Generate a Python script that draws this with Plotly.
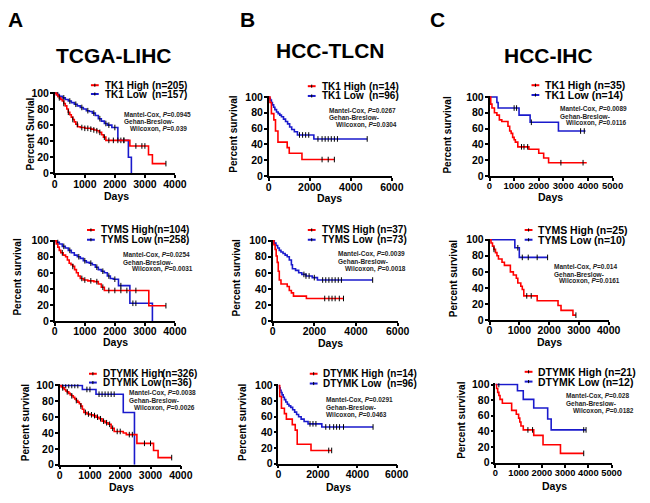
import numpy as np
import plotly.graph_objects as go

W, H = 650, 503
FONT = "Liberation Sans, Arial, sans-serif"
RED = "#FF0000"
BLUE = "#1A1ACC"

# ---------------- data ----------------
COHORTS = ["TCGA-LIHC", "HCC-TLCN", "HCC-IHC"]
PANEL_LETTERS = ["A", "B", "C"]
GENES = ["TK1", "TYMS", "DTYMK"]
Y_LABELS = ["Percent Survial", "Percent survival", "Percent survival",
            "Percent survival", "Percent survival", "Percent survival",
            "Percent survival", "Percent survival", "Percent survival"]
# order: A1 B1 C1 A2 B2 C2 A3 B3 C3
N_HIGH = [205, 14, 35, 104, 37, 25, 326, 14, 21]
N_LOW = [157, 96, 14, 258, 73, 10, 36, 96, 12]
MANTEL_P = ["0.0945", "0.0267", "0.0089", "0.0254", "0.0039", "0.014", "0.0038", "0.0291", "0.028"]
WILCOX_P = ["0.039", "0.0304", "0.0116", "0.0031", "0.0018", "0.0161", "0.0026", "0.0463", "0.0182"]
X_MAX = [4000, 6000, 5000, 4000, 6000, 4000, 4000, 6000, 5000]
X_DTICK = [1000, 2000, 1000, 1000, 2000, 1000, 1000, 2000, 1000]
Y_TICKS = [0, 20, 40, 60, 80, 100]

A1_HIGH_T = [0, 50, 100, 150, 200, 250, 300, 350, 400, 450, 500, 550, 600, 650, 700, 760, 850, 1000, 1100, 1200, 1300, 1400, 1480, 1560, 1620, 1700, 2500, 3120, 3250, 3700]
A1_HIGH_S = [100, 98, 96, 94, 92, 90, 87, 84, 80, 76, 73, 70, 67, 64, 61, 58, 57, 56, 56, 55, 54, 53, 51, 48, 45, 41, 34, 23, 12, 12]
A1_LOW_T = [0, 60, 150, 250, 350, 450, 550, 650, 750, 850, 950, 1050, 1150, 1250, 1350, 1450, 1550, 1650, 1750, 1900, 2100, 2450, 2550]
A1_LOW_S = [100, 98, 96, 94, 92, 90, 88, 86, 84, 82, 80, 78, 77, 75, 72, 68, 65, 62, 60, 57, 41, 20, 0]
A1_HIGH_C = [150, 300, 450, 600, 750, 900, 1000, 1100, 1200, 1300, 1400, 1500, 1650, 1800, 1950, 2100, 2300, 2700, 2900, 3000, 3700]
A1_LOW_C = [100, 300, 500, 700, 900, 1100, 1300, 1500, 1700, 1800, 2000, 2200, 2300]

A2_HIGH_T = [0, 50, 100, 150, 200, 280, 360, 420, 480, 540, 600, 660, 720, 780, 850, 950, 1100, 1300, 1450, 1550, 1650, 3130, 3700]
A2_HIGH_S = [100, 96, 92, 88, 85, 82, 80, 76, 72, 70, 68, 64, 60, 56, 53, 51, 50, 49, 46, 42, 38, 19, 19]
A2_LOW_T = [0, 60, 150, 250, 350, 450, 550, 650, 750, 850, 950, 1050, 1150, 1250, 1350, 1450, 1550, 1650, 1750, 1850, 1950, 2120, 2500, 3250]
A2_LOW_S = [100, 98, 96, 93, 91, 88, 85, 82, 80, 78, 75, 73, 72, 70, 67, 64, 62, 60, 56, 53, 52, 44, 22, 0]
A2_HIGH_C = [250, 600, 900, 1000, 1200, 1400, 1600, 1800, 2000, 2200, 2400, 2700, 3700]
A2_LOW_C = [100, 300, 500, 800, 1000, 1200, 1400, 1600, 1800, 2000, 2200, 2600, 2700]

A3_HIGH_T = [0, 50, 100, 150, 200, 250, 300, 350, 400, 450, 500, 550, 600, 650, 700, 750, 800, 900, 1000, 1100, 1200, 1300, 1400, 1500, 1600, 1700, 1800, 2100, 2200, 2550, 3100, 3250, 3700]
A3_HIGH_S = [100, 98, 97, 95, 93, 92, 90, 88, 87, 85, 83, 81, 79, 77, 74, 70, 66, 64, 63, 62, 60, 58, 55, 53, 51, 46, 42, 40, 38, 27, 18, 9, 9]
A3_LOW_T = [0, 750, 1200, 2100, 2470]
A3_LOW_S = [100, 95, 89, 66, 0]
A3_HIGH_C = [100, 250, 400, 550, 700, 850, 950, 1050, 1150, 1250, 1350, 1450, 1550, 1650, 1750, 1900, 2000, 2300, 2400, 2800, 3000, 3700]
A3_LOW_C = [100, 200, 300, 400, 500, 600, 900, 1000, 1300, 1400, 1500, 1600, 1700, 1800]

B1_HIGH_T = [0, 60, 130, 250, 330, 450, 900, 1000, 1620, 3200]
B1_HIGH_S = [100, 93, 79, 71, 57, 43, 36, 29, 21, 21]
B1_LOW_T = [0, 40, 80, 130, 180, 240, 300, 380, 460, 540, 620, 720, 820, 920, 1020, 1120, 1250, 1400, 2200, 4800]
B1_LOW_S = [100, 98, 96, 93, 90, 87, 84, 81, 79, 77, 75, 72, 69, 66, 62, 59, 56, 52, 47, 47]
B1_HIGH_C = [2600, 2900, 3200]
B1_LOW_C = [1500, 1650, 1800, 1950, 2400, 2600, 2750, 2900, 3050, 3200, 3350, 4800]

B2_HIGH_T = [0, 60, 120, 170, 220, 270, 320, 400, 700, 800, 900, 1000, 1620, 3400]
B2_HIGH_S = [100, 95, 89, 81, 73, 62, 51, 46, 43, 38, 35, 31, 28, 28]
B2_LOW_T = [0, 80, 160, 240, 320, 400, 500, 600, 700, 800, 900, 950, 1100, 1250, 1400, 1600, 1900, 2150, 4800]
B2_LOW_S = [100, 97, 94, 91, 88, 86, 84, 82, 80, 76, 70, 65, 63, 60, 58, 56, 54, 51, 51]
B2_HIGH_C = [2500, 2700, 2850, 3000, 3200, 3400]
B2_LOW_C = [1500, 1600, 1750, 2000, 2400, 2550, 2700, 2850, 3000, 3150, 3300, 4800]

B3_HIGH_T = [0, 60, 150, 300, 400, 700, 850, 950, 1650, 2700]
B3_HIGH_S = [100, 86, 71, 64, 57, 50, 43, 25, 17, 17]
B3_LOW_T = [0, 40, 80, 130, 180, 240, 300, 370, 450, 530, 620, 720, 820, 920, 1020, 1150, 1300, 1500, 2200, 4800]
B3_LOW_S = [100, 97, 94, 91, 88, 85, 82, 79, 76, 74, 72, 69, 66, 63, 60, 57, 54, 51, 47, 47]
B3_HIGH_C = [2550, 2700]
B3_LOW_C = [1600, 1750, 1900, 2400, 2600, 2800, 2950, 3100, 3300, 4800]

C1_HIGH_T = [0, 50, 100, 200, 300, 400, 500, 750, 820, 880, 940, 1000, 1050, 1150, 1600, 2000, 2200, 2400, 3950]
C1_HIGH_S = [100, 91, 86, 80, 77, 71, 69, 63, 57, 54, 49, 46, 43, 37, 34, 29, 23, 17, 17]
C1_LOW_T = [0, 300, 350, 1200, 1650, 2800, 3900]
C1_LOW_S = [100, 93, 86, 77, 68, 57, 57]
C1_HIGH_C = [1300, 1400, 1550, 2900, 3800]
C1_LOW_C = [1000, 1100, 1700, 3700, 3850]

C2_HIGH_T = [0, 50, 100, 150, 200, 250, 300, 420, 500, 700, 800, 900, 950, 1050, 1100, 1150, 1600, 2300, 2400, 2800, 2900]
C2_HIGH_S = [100, 96, 92, 88, 84, 80, 76, 72, 68, 60, 56, 52, 46, 42, 38, 30, 24, 18, 12, 6, 6]
C2_LOW_T = [0, 850, 1000, 1950]
C2_LOW_S = [100, 90, 78, 78]
C2_HIGH_C = [150, 1250, 1400, 2900]
C2_LOW_C = [950, 1100, 1300, 1600, 1950]

C3_HIGH_T = [0, 50, 100, 150, 200, 300, 700, 900, 1000, 1050, 1100, 1200, 1650, 2050, 2800, 3800]
C3_HIGH_S = [100, 95, 90, 86, 81, 76, 67, 62, 57, 52, 47, 42, 35, 23, 12, 12]
C3_LOW_T = [0, 950, 1200, 1650, 2250, 2400, 3900]
C3_LOW_S = [100, 92, 81, 70, 56, 42, 42]
C3_HIGH_C = [1400, 1600, 3800]
C3_LOW_C = [150, 3800, 3900]

CURVES = [
    (A1_HIGH_T, A1_HIGH_S, A1_HIGH_C, A1_LOW_T, A1_LOW_S, A1_LOW_C),
    (B1_HIGH_T, B1_HIGH_S, B1_HIGH_C, B1_LOW_T, B1_LOW_S, B1_LOW_C),
    (C1_HIGH_T, C1_HIGH_S, C1_HIGH_C, C1_LOW_T, C1_LOW_S, C1_LOW_C),
    (A2_HIGH_T, A2_HIGH_S, A2_HIGH_C, A2_LOW_T, A2_LOW_S, A2_LOW_C),
    (B2_HIGH_T, B2_HIGH_S, B2_HIGH_C, B2_LOW_T, B2_LOW_S, B2_LOW_C),
    (C2_HIGH_T, C2_HIGH_S, C2_HIGH_C, C2_LOW_T, C2_LOW_S, C2_LOW_C),
    (A3_HIGH_T, A3_HIGH_S, A3_HIGH_C, A3_LOW_T, A3_LOW_S, A3_LOW_C),
    (B3_HIGH_T, B3_HIGH_S, B3_HIGH_C, B3_LOW_T, B3_LOW_S, B3_LOW_C),
    (C3_HIGH_T, C3_HIGH_S, C3_HIGH_C, C3_LOW_T, C3_LOW_S, C3_LOW_C),
]

# ---------------- layout (pixel positions) ----------------
AX = [
    (53, 176, 90, 172), (272, 398, 94, 175), (498, 624, 94, 175),
    (53, 176, 241, 323), (276, 404, 241, 323), (498, 620, 240, 322),
    (58, 182, 389, 470), (282, 403, 389, 469), (504, 623, 388, 468),
]
X_TICK_FONT = [10.5, 10.5, 9.5, 10.5, 10.5, 10.5, 10.5, 10.5, 9.3]
# legend: text x, n-text x (None => joined), row1 y, row2 y, font size
LEG = [
    (103, 151, 82, 91, 10), (325, 374, 83, 93, 10), (554, None, 82, 92, 10.5),
    (99, 154, 230, 240, 10), (325, 382, 230, 240, 10), (547, None, 230, 240, 10.5),
    (101, 162, 377, 386, 10), (327, 392, 377, 387, 10), (547, None, 375, 385, 10.5),
]
# stats text: x line1/2, x line3, y line1, line step
STAT = [
    (123, 129, 112, 7.3), (333, 340, 108, 7.5), (569, 575, 106, 7.5),
    (122, 131, 256, 7.2), (342, 349, 255, 7.5), (563, 568, 268, 7.2),
    (128, 133, 397, 7.5), (330, 330, 404, 7.8), (575, 582, 400, 7.5),
]
YLAB = [(28, 132), (236, 132), (455, 133), (15, 278), (239, 279), (462, 280),
        (23, 427), (245, 427), (470, 425)]
DAYS = [(116, 195), (334, 197), (560, 196), (115, 345), (335, 346), (559, 345),
        (121, 493), (343, 493), (565, 492)]
TITLES = [(113, 52), (335, 47), (558, 52)]
LETTERS = [(13, 15), (250, 15), (445, 15)]

YTOP = 101.5


def fx(p):
    return p / W


def fy(p):
    return 1 - p / H


def step_at(t, s, c):
    t = np.asarray(t, float)
    s = np.asarray(s, float)
    idx = np.searchsorted(t, np.asarray(c, float), side="right") - 1
    return s[np.clip(idx, 0, len(s) - 1)]


def note(text, x, y, size, xanchor="left", angle=0, color="black"):
    return dict(text=text, x=fx(x), y=fy(y), xref="paper", yref="paper", xanchor=xanchor,
                yanchor="middle", showarrow=False, borderpad=0, textangle=angle,
                font=dict(family=FONT, size=size, color=color))


fig = go.Figure()
annotations = []
shapes = []

for i in range(9):
    row, col = divmod(i, 3)
    gene = GENES[row]
    ht, hs, hc, lt, ls, lc = CURVES[i]
    xa = "x" if i == 0 else f"x{i+1}"
    ya = "y" if i == 0 else f"y{i+1}"
    for (tt, ss, cc, color) in [(lt, ls, lc, BLUE), (ht, hs, hc, RED)]:
        fig.add_trace(go.Scatter(x=tt, y=ss, mode="lines", line=dict(color=color, width=1.6, shape="hv"),
                                 xaxis=xa, yaxis=ya, showlegend=False, hoverinfo="skip"))
        fig.add_trace(go.Scatter(x=cc, y=step_at(tt, ss, cc), mode="markers",
                                 marker=dict(symbol="line-ns", size=4, line=dict(width=1, color="black")),
                                 xaxis=xa, yaxis=ya, showlegend=False, hoverinfo="skip"))

    x0, x1, y100, y0 = AX[i]
    ytop_px = y100 - (YTOP - 100) / 100 * (y0 - y100)
    axis_common = dict(showgrid=False, zeroline=False, showline=True, linecolor="black", linewidth=1.5,
                       ticks="outside", ticklen=3, tickwidth=1.5, tickcolor="black", tickangle=0,
                       fixedrange=True)
    xkey = "xaxis" if i == 0 else f"xaxis{i+1}"
    ykey = "yaxis" if i == 0 else f"yaxis{i+1}"
    fig.update_layout(**{
        xkey: dict(domain=[fx(x0), fx(x1)], range=[0, X_MAX[i]], anchor=ya, tick0=0, dtick=X_DTICK[i],
                   ticklabelstandoff=-3,
                   tickfont=dict(family=FONT, size=X_TICK_FONT[i], color="black", weight="bold"),
                   **axis_common),
        ykey: dict(domain=[fy(y0), fy(ytop_px)], range=[0, YTOP], anchor=xa, tickvals=Y_TICKS,
                   ticklabelstandoff=-1,
                   tickfont=dict(family=FONT, size=10.5, color="black", weight="bold"),
                   **axis_common),
    })

    # legend
    tx, nx, ly1, ly2, lfs = LEG[i]
    lx1 = tx - 5
    lx0 = lx1 - 8
    for ly, color, lab, n in [(ly1, RED, "High", N_HIGH[i]), (ly2, BLUE, "Low", N_LOW[i])]:
        shapes.append(dict(type="line", xref="paper", yref="paper", x0=fx(lx0), x1=fx(lx1), y0=fy(ly), y1=fy(ly),
                           line=dict(color=color, width=2)))
        xm = (lx0 + lx1) / 2
        shapes.append(dict(type="line", xref="paper", yref="paper", x0=fx(xm), x1=fx(xm), y0=fy(ly - 1.6),
                           y1=fy(ly + 1.6), line=dict(color="black", width=1)))
        if nx is None:
            annotations.append(note(f"<b>{gene} {lab} (n={n})</b>", tx, ly, lfs))
        else:
            annotations.append(note(f"<b>{gene} {lab}</b>", tx, ly, lfs))
            annotations.append(note(f"<b>(n={n})</b>", nx, ly, lfs))

    # stats
    sx, sx3, sy, sd = STAT[i]
    annotations.append(note("<b>Mantel-Cox, <i>P</i>=" + MANTEL_P[i] + "</b>", sx, sy, 6.5, color="#1e1e1e"))
    annotations.append(note("<b>Gehan-Breslow-</b>", sx, sy + sd, 6.5, color="#1e1e1e"))
    annotations.append(note("<b>Wilcoxon, <i>P</i>=" + WILCOX_P[i] + "</b>", sx3, sy + 2 * sd, 6.5,
                            color="#1e1e1e"))

    yx, yy = YLAB[i]
    annotations.append(note(f"<b>{Y_LABELS[i]}</b>", yx, yy, 10, xanchor="center", angle=-90))
    dx, dy = DAYS[i]
    annotations.append(note("<b>Days</b>", dx, dy, 10.5, xanchor="center"))

for j in range(3):
    tx, ty = TITLES[j]
    annotations.append(note(f"<b>{COHORTS[j]}</b>", tx, ty, 21, xanchor="center"))
    lx, ly = LETTERS[j]
    annotations.append(note(f"<b>{PANEL_LETTERS[j]}</b>", lx, ly, 21, xanchor="center"))

fig.update_layout(width=W, height=H, autosize=False, margin=dict(l=0, r=0, t=0, b=0),
                  paper_bgcolor="white", plot_bgcolor="white", showlegend=False,
                  annotations=annotations, shapes=shapes)

fig.write_html("out.html", config={"displayModeBar": False},
               post_script="document.body.style.margin='0px';document.body.style.overflow='hidden';")
